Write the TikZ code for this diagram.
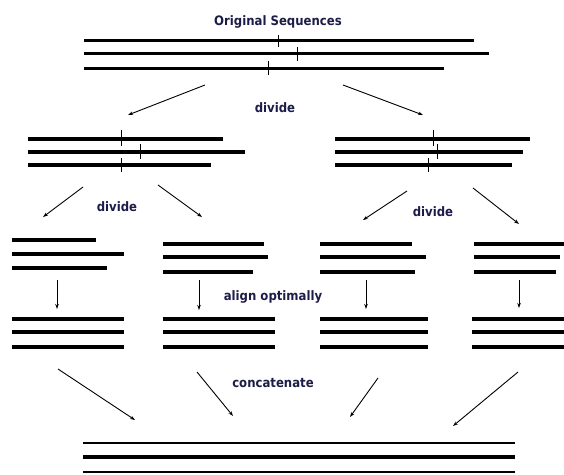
\documentclass[tikz,border=0pt]{standalone}
\usepackage{fontspec}
\usepackage{tikz}
\usetikzlibrary{arrows.meta}
\newfontfamily\labelfont{DejaVu Sans Condensed}
\definecolor{labelnavy}{RGB}{28,28,72}

\begin{document}
\begin{tikzpicture}[x=1pt,y=-1pt,
	seq/.style={black,line width=4pt},
	cut/.style={black,line width=0.9pt},
	flow/.style={black,line width=0.9pt,-{Stealth[length=5pt,width=3.5pt]}},
	lbl/.style={font=\labelfont\bfseries\fontsize{13}{15}\selectfont,text=labelnavy,inner sep=0pt}]
	\useasboundingbox (0,0) rectangle (564,474);

	\node[lbl] (orig) at (278,22) {Original Sequences};
	\draw[seq,line width=3pt] (84,40)--(474,40);
	\draw[seq,line width=3pt] (84,53)--(489,53);
	\draw[seq,line width=3pt] (84,68)--(444,68);
	\draw[cut] (278,35)--(278,47);
	\draw[cut] (297,47)--(297,61);
	\draw[cut] (268,61)--(268,75);

	\node[lbl] (div1) at (275,108) {divide};
	\coordinate (d1s) at (205,85);
	\coordinate (d1e) at (128,115);
	\coordinate (d2s) at (343,85);
	\coordinate (d2e) at (423,115);
	\draw[flow] (d1s)--(d1e);
	\draw[flow] (d2s)--(d2e);

	% left half
	\draw[seq] (28,139)--(223,139);
	\draw[seq] (28,152)--(245,152);
	\draw[seq] (28,165)--(211,165);
	\draw[cut] (121,130)--(121,146);
	\draw[cut] (140,144)--(140,159);
	\draw[cut] (121,158)--(121,172);
	% right half
	\draw[seq] (335,139)--(530,139);
	\draw[seq] (335,152)--(523,152);
	\draw[seq] (335,165)--(512,165);
	\draw[cut] (433,130)--(433,146);
	\draw[cut] (437,144)--(437,159);
	\draw[cut] (428,158)--(428,172);

	\node[lbl] (div2) at (117,207) {divide};
	\node[lbl] (div3) at (433,212) {divide};
	\coordinate (d3s) at (83,187);
	\coordinate (d3e) at (43,217);
	\coordinate (d4s) at (158,185);
	\coordinate (d4e) at (202,217);
	\coordinate (d5s) at (407,191);
	\coordinate (d5e) at (363,220);
	\coordinate (d6s) at (473,188);
	\coordinate (d6e) at (519,224);
	\draw[flow] (d3s)--(d3e);
	\draw[flow] (d4s)--(d4e);
	\draw[flow] (d5s)--(d5e);
	\draw[flow] (d6s)--(d6e);

	% quarters
	\draw[seq] (12,240)--(96,240);
	\draw[seq] (12,254)--(124,254);
	\draw[seq] (12,268)--(107,268);
	\draw[seq] (163,244)--(264,244);
	\draw[seq] (163,257)--(268,257);
	\draw[seq] (163,272)--(253,272);
	\draw[seq] (320,244)--(412,244);
	\draw[seq] (320,257)--(426,257);
	\draw[seq] (320,272)--(415,272);
	\draw[seq] (474,244)--(564,244);
	\draw[seq] (474,257)--(560,257);
	\draw[seq] (474,272)--(556,272);

	\node[lbl] (align) at (273,297) {align optimally};
	\coordinate (a1s) at (57,280);
	\coordinate (a1e) at (57,309);
	\coordinate (a2s) at (199,280);
	\coordinate (a2e) at (199,310);
	\coordinate (a3s) at (366,280);
	\coordinate (a3e) at (366,309);
	\coordinate (a4s) at (519,280);
	\coordinate (a4e) at (519,308);
	\draw[flow] (a1s)--(a1e);
	\draw[flow] (a2s)--(a2e);
	\draw[flow] (a3s)--(a3e);
	\draw[flow] (a4s)--(a4e);

	% aligned quarters
	\foreach \y in {319,332,347}{
		\draw[seq] (12,\y)--(124,\y);
		\draw[seq] (163,\y)--(275,\y);
		\draw[seq] (320,\y)--(428,\y);
		\draw[seq] (472,\y)--(564,\y);
	}

	\node[lbl] (concat) at (273,383) {concatenate};
	\coordinate (c1s) at (58,369);
	\coordinate (c1e) at (135,420);
	\coordinate (c2s) at (197,372);
	\coordinate (c2e) at (233,416);
	\coordinate (c3s) at (378,378);
	\coordinate (c3e) at (350,417);
	\coordinate (c4s) at (518,372);
	\coordinate (c4e) at (453,426);
	\draw[flow] (c1s)--(c1e);
	\draw[flow] (c2s)--(c2e);
	\draw[flow] (c3s)--(c3e);
	\draw[flow] (c4s)--(c4e);

	\draw[seq,line width=2.5pt] (83,443)--(515,443);
	\draw[seq,line width=3.5pt] (83,457)--(515,457);
	\draw[seq,line width=2.5pt] (83,472)--(515,472);
\end{tikzpicture}
\end{document}
